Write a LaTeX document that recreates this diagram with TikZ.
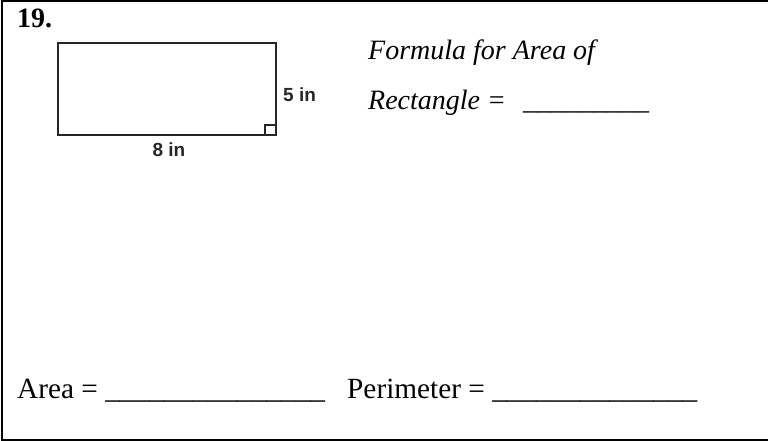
\documentclass[tikz,border=0pt]{standalone}
\usepackage{fontspec}
\setmainfont{Liberation Serif}
\newfontfamily\dimfont{Liberation Sans}
\usetikzlibrary{positioning}

\begin{document}
\begin{tikzpicture}[
x=1pt,y=-1pt,
txt/.style={inner sep=0pt,anchor=base west,font=\fontsize{29.3}{35}\selectfont},
itxt/.style={txt,font=\itshape\fontsize{28}{34}\selectfont},
dimlabel/.style={inner sep=0pt,font=\dimfont\bfseries\fontsize{19}{23}\selectfont,text=black!85},
figline/.style={draw=black!85,line width=2pt},
frame/.style={line width=2.5pt}
]
\useasboundingbox (0,0) rectangle (768,441);
% outer box, open on the right
\draw[frame] (768,1) -- (2,1) -- (2,440) -- (768,440);
\node[txt,font=\bfseries\fontsize{28}{34}\selectfont] (num) at (17,28) {19.};
% the rectangle with its dimensions
\draw[figline] (58,43) rectangle (276,135);
\draw[figline,line width=1.5pt] (265,135) |- (276,125);
\node[dimlabel] (width) at (169,150) {8 in};
\node[dimlabel,anchor=west] (height) at (283,95) {5 in};
\node[itxt] (formula) at (368,60) {Formula for Area of};
\node[itxt] (rect) at (368,110) {Rectangle = \hspace{10pt}\_\_\_\_\_\_\_\_\_};
\node[txt] (area) at (17,398) {Area = \_\_\_\_\_\_\_\_\_\_\_\_\_\_\_};
\node[txt] (perim) at (347,398) {Perimeter = \_\_\_\_\_\_\_\_\_\_\_\_\_\_};
\end{tikzpicture}
\end{document}
